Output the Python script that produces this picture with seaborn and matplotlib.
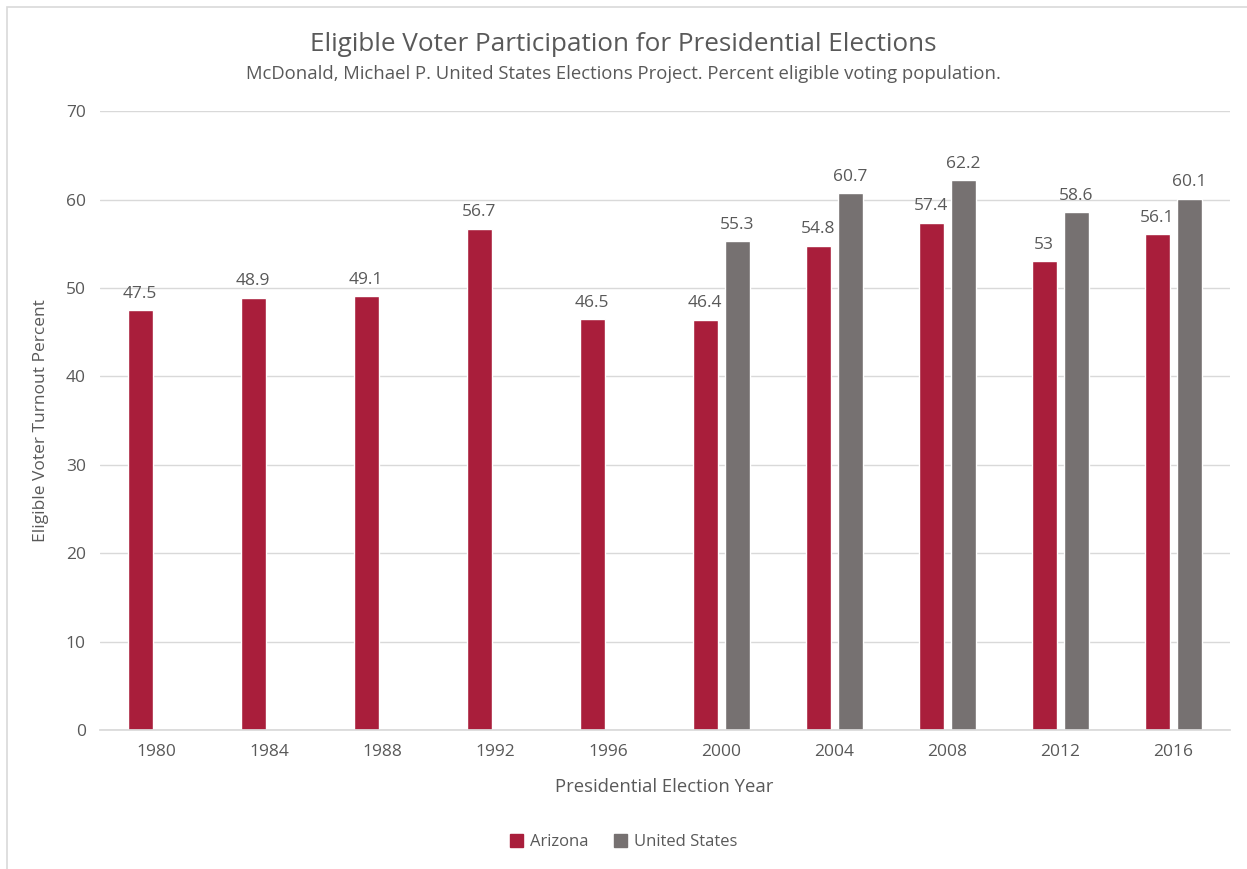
import numpy as np
import pandas as pd
import matplotlib.pyplot as plt
import matplotlib.patches as mpatches
import seaborn as sns

years = ["1980", "1984", "1988", "1992", "1996", "2000", "2004", "2008", "2012", "2016"]
arizona = [47.5, 48.9, 49.1, 56.7, 46.5, 46.4, 54.8, 57.4, 53, 56.1]
united_states = [np.nan, np.nan, np.nan, np.nan, np.nan, 55.3, 60.7, 62.2, 58.6, 60.1]
series_names = ["Arizona", "United States"]
series_colors = ["#A91E3B", "#767171"]

df = pd.DataFrame({
    "year": years * 2,
    "series": [series_names[0]] * len(years) + [series_names[1]] * len(years),
    "value": arizona + united_states,
})

sns.set_theme(style="white")
plt.rcParams['font.family'] = ['Open Sans', 'DejaVu Sans']
text_col = "#595959"

fig = plt.figure(figsize=(12.47, 8.69), dpi=100)
ax = fig.add_axes([0.080, 0.160, 0.906, 0.712])

sns.barplot(data=df, x="year", y="value", hue="series", order=years,
            hue_order=series_names, palette=series_colors, width=0.566, gap=0.22,
            saturation=1, ax=ax, legend=False)

ax.set_ylim(0, 70)
ax.set_yticks(range(0, 71, 10))
ax.set_xlim(-0.5, len(years) - 0.5)
ax.yaxis.grid(True, color="#D9D9D9", linewidth=1)
ax.set_axisbelow(True)
for s in ["top", "right", "left"]:
    ax.spines[s].set_visible(False)
ax.spines["bottom"].set_color("#D9D9D9")
ax.tick_params(axis="x", length=0, labelsize=12.5, labelcolor=text_col, pad=10)
ax.tick_params(axis="y", length=0, labelsize=12.5, labelcolor=text_col, pad=10)
ax.set_xlabel("Presidential Election Year", fontsize=13.3, color=text_col, labelpad=13)
ax.set_ylabel("Eligible Voter Turnout Percent", fontsize=12.5, color=text_col, labelpad=12)

for cont in ax.containers:
    labels = ["" if np.isnan(v) else f"{v:g}" for v in cont.datavalues]
    ax.bar_label(cont, labels=labels, padding=6, fontsize=12.5, color=text_col)

fig.text(0.5, 0.949, "Eligible Voter Participation for Presidential Elections",
         ha="center", va="center", fontsize=18.8, color=text_col)
fig.text(0.5, 0.915, "McDonald, Michael P. United States Elections Project. Percent eligible voting population.",
         ha="center", va="center", fontsize=13.3, color=text_col)

handles = [mpatches.Patch(color=c, label=n) for c, n in zip(series_colors, series_names)]
fig.legend(handles=handles, loc="center", bbox_to_anchor=(0.5, 0.031), ncol=2, frameon=False,
           fontsize=12, labelcolor=text_col, handlelength=0.8, handleheight=0.8,
           handletextpad=0.4, columnspacing=1.5)

fig.add_artist(mpatches.Rectangle((0.006, -0.01), 1.2, 1.002, transform=fig.transFigure,
                                  fill=False, edgecolor="#D9D9D9", linewidth=1.2))

fig.savefig("out.png", dpi=100)
